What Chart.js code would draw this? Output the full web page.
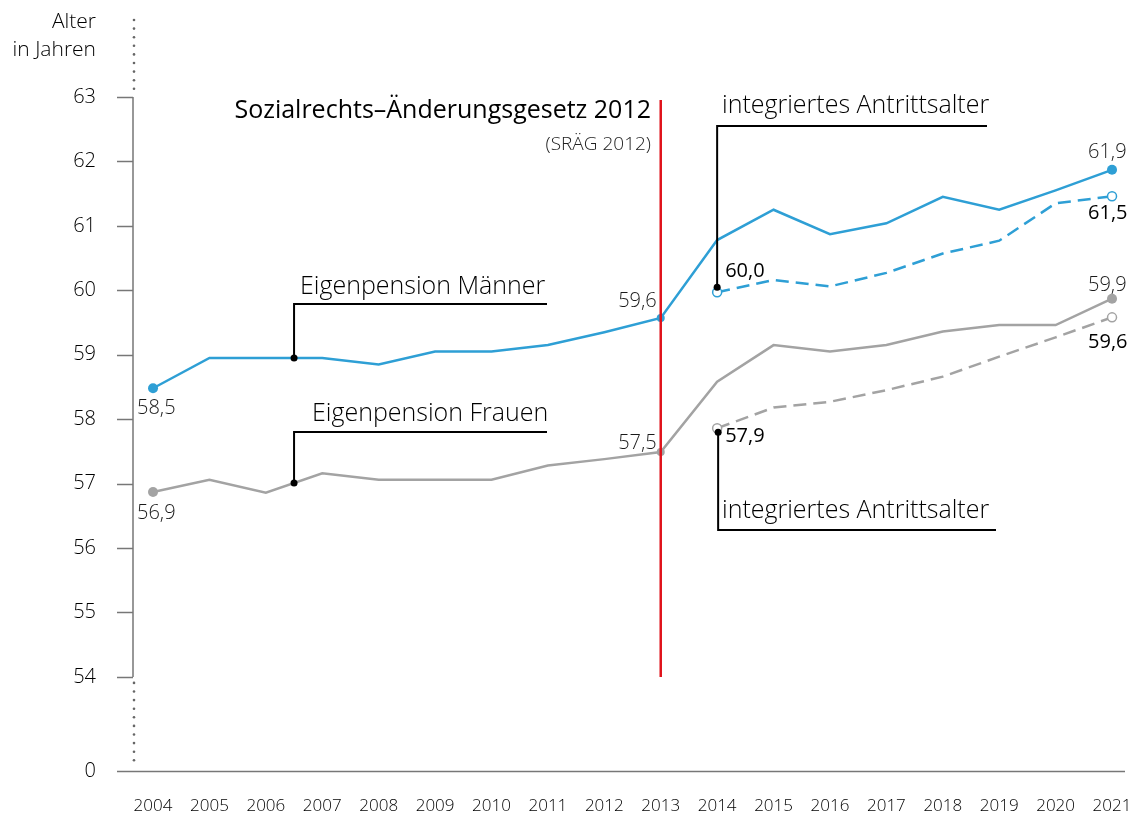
<!DOCTYPE html>
<html lang="de">
<head>
<meta charset="utf-8">
<script src="https://cdn.jsdelivr.net/npm/chart.js@4"></script>
<style>
  body { margin: 0; background: #fff; }
  #wrap { width: 1140px; height: 819px; }
</style>
</head>
<body>
<div id="wrap"><canvas id="chart" width="1140" height="819"></canvas></div>
<script>
// Jahre (x-Achse)
var jahre = ['2004', '2005', '2006', '2007', '2008', '2009', '2010', '2011', '2012',
             '2013', '2014', '2015', '2016', '2017', '2018', '2019', '2020', '2021'];

// Antrittsalter Eigenpension
var maenner = [58.48, 58.95, 58.95, 58.95, 58.85, 59.05, 59.05, 59.15, 59.35,
               59.57, 60.78, 61.25, 60.87, 61.04, 61.45, 61.25, 61.55, 61.87];
var frauen  = [56.87, 57.06, 56.86, 57.16, 57.06, 57.06, 57.06, 57.28, 57.38,
               57.49, 58.58, 59.15, 59.05, 59.15, 59.36, 59.46, 59.46, 59.87];

// integriertes Antrittsalter (ab 2014)
var maennerIntegriert = [null, null, null, null, null, null, null, null, null,
                         null, 59.97, 60.16, 60.06, 60.27, 60.57, 60.77, 61.35, 61.46];
var frauenIntegriert  = [null, null, null, null, null, null, null, null, null,
                         null, 57.86, 58.18, 58.27, 58.45, 58.66, 58.97, 59.27, 59.58];

// y-Achse: 54..63, darunter Achsenbruch bis 0
var yTicks = [54, 55, 56, 57, 58, 59, 60, 61, 62, 63];
var yNull = 52.54;

var BLAU = '#2e9fd5';
var GRAU = '#a3a3a3';
var ROT = '#e0121a';
var FONT = '"Open Sans", "Segoe UI", sans-serif';

function punkte(arr) {
    var out = [];
    arr.forEach(function (v, i) {
        if (v !== null) out.push({ x: +jahre[i], y: v });
    });
    return out;
}

function fmt(v) {
    return (Math.round(v * 10) / 10).toFixed(1).replace('.', ',');
}

function wertBei(arr, jahr) {
    var i = Math.floor(jahr - +jahre[0]);
    var t = jahr - (+jahre[0] + i);
    if (t === 0) return arr[i];
    return arr[i] + (arr[i + 1] - arr[i]) * t;
}

function keinePadding(s) {
    s.paddingTop = 0;
    s.paddingBottom = 0;
    s.paddingLeft = 0;
    s.paddingRight = 0;
}

var dekoPlugin = {
    id: 'deko',
    beforeDatasetsDraw: function (chart) {
        var c = chart.ctx, y = chart.scales.y;
        var ax = chart.chartArea.left;
        c.save();
        // Achse
        c.strokeStyle = '#777';
        c.lineWidth = 1.5;
        c.beginPath();
        c.moveTo(ax, y.getPixelForValue(54));
        c.lineTo(ax, y.getPixelForValue(63));
        yTicks.forEach(function (t) {
            var py = Math.round(y.getPixelForValue(t)) + 0.5;
            c.moveTo(ax - 16, py);
            c.lineTo(ax, py);
        });
        var p0 = Math.round(y.getPixelForValue(yNull)) + 0.5;
        c.moveTo(ax - 16, p0);
        c.lineTo(chart.chartArea.right, p0);
        c.stroke();
        // gepunktete Achsenbruch-Linien
        c.fillStyle = '#666';
        function punktLinie(von, bis) {
            for (var py = von; py <= bis; py += 8.6) {
                c.beginPath();
                c.arc(ax + 1, py, 1.3, 0, Math.PI * 2);
                c.fill();
            }
        }
        punktLinie(chart.chartArea.top + 2, y.getPixelForValue(63) - 8);
        punktLinie(y.getPixelForValue(54) + 6, p0 - 6);
        c.restore();
    },
    afterDatasetsDraw: function (chart) {
        var c = chart.ctx, x = chart.scales.x, y = chart.scales.y;
        c.save();

        // rote Linie SRÄG 2012
        c.strokeStyle = ROT;
        c.lineWidth = 2.5;
        var rx = x.getPixelForValue(2013);
        c.beginPath();
        c.moveTo(rx, y.getPixelForValue(63) + 3);
        c.lineTo(rx, y.getPixelForValue(54));
        c.stroke();

        c.textBaseline = 'middle';

        // Achsentitel
        c.fillStyle = '#000';
        c.font = '300 21px ' + FONT;
        c.textAlign = 'right';
        c.fillText('Alter', 96, 22);
        c.fillText('in Jahren', 96, 50);

        // Hinweislinien
        function hinweis(px, py, knickY, endeX, text, textX, textY) {
            c.strokeStyle = '#000';
            c.lineWidth = 2;
            c.beginPath();
            c.moveTo(px, py);
            c.lineTo(px, knickY);
            c.lineTo(endeX, knickY);
            c.stroke();
            c.fillStyle = '#000';
            c.beginPath();
            c.arc(px, py, 3.5, 0, Math.PI * 2);
            c.fill();
            c.font = '300 25px ' + FONT;
            c.textAlign = 'left';
            c.fillText(text, textX, textY);
        }
        var xm = x.getPixelForValue(2006.5);
        hinweis(xm, y.getPixelForValue(wertBei(maenner, 2006.5)), 304, 547,
                'Eigenpension Männer', 300, 287);
        hinweis(xm, y.getPixelForValue(wertBei(frauen, 2006.5)), 432, 547,
                'Eigenpension Frauen', 312, 414);
        var xi = x.getPixelForValue(2014);
        hinweis(xi, y.getPixelForValue(maennerIntegriert[10]) - 5, 126, 987,
                'integriertes Antrittsalter', 722, 106);
        hinweis(xi + 1, y.getPixelForValue(frauenIntegriert[10]) + 4, 530, 996,
                'integriertes Antrittsalter', 722, 511);

        // Gesetz
        c.textAlign = 'right';
        c.fillStyle = '#000';
        c.font = '400 25px ' + FONT;
        c.fillText('Sozialrechts–Änderungsgesetz 2012', 651, 111);
        c.fillStyle = '#222';
        c.font = '300 19px ' + FONT;
        c.fillText('(SRÄG 2012)', 651, 145);

        // Werte
        function wert(v, px, py, align, fett) {
            c.textAlign = align;
            c.fillStyle = fett ? '#000' : '#1a1a1a';
            c.font = (fett ? '400 ' : '300 ') + '20px ' + FONT;
            c.fillText(fmt(v), px, py);
        }
        var x04 = x.getPixelForValue(2004), x13 = x.getPixelForValue(2013);
        var x14 = x.getPixelForValue(2014), x21 = x.getPixelForValue(2021);
        wert(maenner[0], x04 - 16, y.getPixelForValue(maenner[0]) + 20, 'left');
        wert(frauen[0], x04 - 16, y.getPixelForValue(frauen[0]) + 21, 'left');
        wert(maenner[9], x13 - 4, y.getPixelForValue(maenner[9]) - 17, 'right');
        wert(frauen[9], x13 - 4, y.getPixelForValue(frauen[9]) - 9, 'right');
        wert(maennerIntegriert[10], x14 + 8, y.getPixelForValue(maennerIntegriert[10]) - 21, 'left', true);
        wert(frauenIntegriert[10], x14 + 8, y.getPixelForValue(frauenIntegriert[10]) + 8, 'left', true);
        wert(maenner[17], x21 - 24, y.getPixelForValue(maenner[17]) - 18, 'left');
        wert(maennerIntegriert[17], x21 - 24, y.getPixelForValue(maennerIntegriert[17]) + 17, 'left', true);
        wert(frauen[17], x21 - 24, y.getPixelForValue(frauen[17]) - 13, 'left');
        wert(frauenIntegriert[17], x21 - 24, y.getPixelForValue(frauenIntegriert[17]) + 25, 'left', true);
        c.restore();
    }
};

function punktGroesse(idx, r) {
    return function (ctx) {
        var k = idx.indexOf(ctx.dataIndex);
        return k >= 0 ? r[k] : 0;
    };
}

new Chart(document.getElementById('chart'), {
    type: 'line',
    data: {
        datasets: [
            {
                label: 'Eigenpension Männer',
                data: punkte(maenner),
                borderColor: BLAU,
                backgroundColor: BLAU,
                borderWidth: 2.5,
                pointRadius: punktGroesse([0, 9, 17], [5, 4, 5]),
                pointBorderWidth: 0,
                tension: 0
            },
            {
                label: 'Eigenpension Frauen',
                data: punkte(frauen),
                borderColor: GRAU,
                backgroundColor: GRAU,
                borderWidth: 2.5,
                pointRadius: punktGroesse([0, 9, 17], [5, 4, 5]),
                pointBorderWidth: 0,
                tension: 0
            },
            {
                label: 'integriertes Antrittsalter Männer',
                data: punkte(maennerIntegriert),
                borderColor: BLAU,
                backgroundColor: '#fff',
                borderWidth: 2.5,
                borderDash: [13, 7],
                pointRadius: punktGroesse([0, 7], [4.5, 4.5]),
                pointBorderWidth: 1.5,
                tension: 0
            },
            {
                label: 'integriertes Antrittsalter Frauen',
                data: punkte(frauenIntegriert),
                borderColor: GRAU,
                backgroundColor: '#fff',
                borderWidth: 2.5,
                borderDash: [13, 7],
                pointRadius: punktGroesse([0, 7], [4.5, 4.5]),
                pointBorderWidth: 1.5,
                tension: 0
            }
        ]
    },
    options: {
        responsive: false,
        animation: false,
        layout: { padding: { top: 18, left: 10, right: 15, bottom: 0 } },
        plugins: {
            legend: { display: false },
            tooltip: { enabled: false }
        },
        scales: {
            x: {
                type: 'linear',
                min: 2003.645,
                max: 2021.23,
                grid: { display: false, drawTicks: false },
                border: { display: false },
                afterBuildTicks: function (s) {
                    s.ticks = jahre.map(function (j) { return { value: +j }; });
                },
                afterFit: function (s) { s.height = 48; keinePadding(s); },
                ticks: {
                    padding: 25,
                    maxRotation: 0,
                    autoSkip: false,
                    color: '#000',
                    font: { family: FONT, size: 17, weight: 300 },
                    callback: function (v) { return String(v); }
                }
            },
            y: {
                min: yNull,
                max: 64.226,
                grid: { display: false, drawTicks: false },
                border: { display: false },
                afterBuildTicks: function (s) {
                    s.ticks = [{ value: yNull }].concat(yTicks.map(function (t) { return { value: t }; }));
                },
                afterFit: function (s) { s.width = 123; keinePadding(s); },
                ticks: {
                    padding: 37,
                    color: '#000',
                    font: { family: FONT, size: 20, weight: 300 },
                    callback: function (v) { return v < 54 ? '0' : String(v); }
                }
            }
        }
    },
    plugins: [dekoPlugin]
});
</script>
</body>
</html>
